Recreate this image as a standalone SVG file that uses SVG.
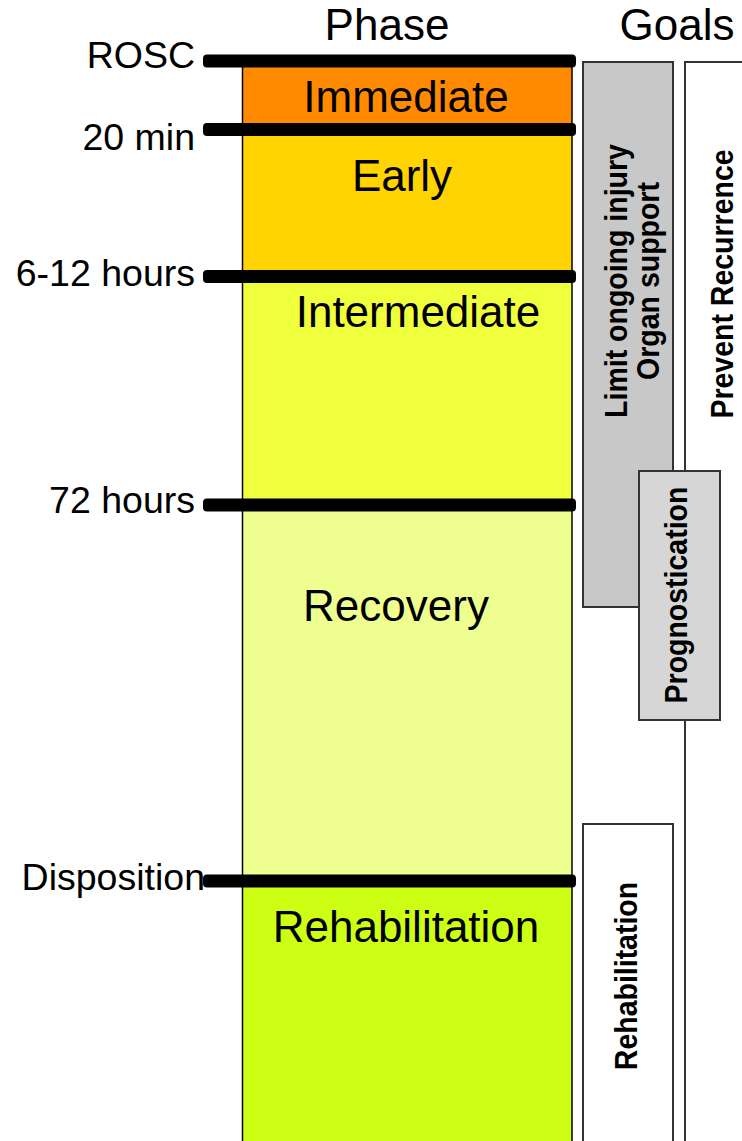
<svg xmlns="http://www.w3.org/2000/svg" width="742" height="1141" viewBox="0 0 742 1141">
<style>
.lbl{font-family:"Liberation Sans",Arial,sans-serif;font-size:37.5px;fill:#000;text-anchor:end}
.ph{font-family:"Liberation Sans",Arial,sans-serif;font-size:44px;fill:#000;text-anchor:middle}
.goal{font-family:"Liberation Sans",Arial,sans-serif;font-size:28.5px;font-weight:bold;fill:#000;text-anchor:middle}
.bar{fill:#000}
.edge{stroke:#000;stroke-width:1.5}
.gbox{stroke:#333;stroke-width:2}
</style>
<rect width="742" height="1141" fill="#fff"/>
<text class="ph" x="387" y="40">Phase</text>
<text class="ph" x="677" y="40">Goals</text>

<g id="phase-immediate">
<rect x="242" y="61" width="330" height="69" fill="#FF8A00"/>
<text class="ph" x="406" y="112">Immediate</text>
</g>
<g id="phase-early">
<rect x="242" y="130" width="330" height="147" fill="#FFD400"/>
<text class="ph" x="402" y="191">Early</text>
</g>
<g id="phase-intermediate">
<rect x="242" y="277" width="330" height="228" fill="#F0FF3C"/>
<text class="ph" x="418" y="327">Intermediate</text>
</g>
<g id="phase-recovery">
<rect x="242" y="505" width="330" height="376" fill="#EEFF90"/>
<text class="ph" x="396" y="621">Recovery</text>
</g>
<g id="phase-rehabilitation">
<rect x="242" y="881" width="330" height="260" fill="#CCFF14"/>
<text class="ph" x="406" y="942">Rehabilitation</text>
</g>
<g id="column-edges">
<line class="edge" x1="242.5" y1="61" x2="242.5" y2="1141"/>
<line class="edge" x1="572" y1="61" x2="572" y2="1141"/>
</g>

<g id="markers">
<g id="m-rosc"><rect class="bar" x="203" y="54.5" width="373" height="13" rx="4"/><text class="lbl" x="195" y="68">ROSC</text></g>
<g id="m-20min"><rect class="bar" x="203" y="123" width="373" height="13" rx="4"/><text class="lbl" x="195" y="150">20 min</text></g>
<g id="m-6-12h"><rect class="bar" x="203" y="270" width="373" height="13" rx="4"/><text class="lbl" x="195" y="286">6-12 hours</text></g>
<g id="m-72h"><rect class="bar" x="203" y="498.5" width="373" height="13" rx="4"/><text class="lbl" x="195" y="513">72 hours</text></g>
<g id="m-disposition"><rect class="bar" x="203" y="874.5" width="373" height="13" rx="4"/><text class="lbl" x="205" y="890">Disposition</text></g>
</g>

<g id="goal-prevent">
<rect class="gbox" x="685" y="62" width="70" height="1090" fill="#fff"/>
<text class="goal" transform="translate(733,284) rotate(-90) scale(1,1.12)">Prevent Recurrence</text>
</g>
<g id="goal-limit">
<rect class="gbox" x="583" y="62" width="90" height="545" fill="#C8C8C8"/>
<text class="goal" transform="translate(627,281) rotate(-90) scale(1,1.12)">Limit ongoing injury</text>
<text class="goal" transform="translate(659,281) rotate(-90) scale(1,1.12)">Organ support</text>
</g>
<g id="goal-prognostication">
<rect class="gbox" x="639" y="471" width="81" height="249" fill="#D6D6D6"/>
<text class="goal" transform="translate(687,595) rotate(-90) scale(1,1.12)">Prognostication</text>
</g>
<g id="goal-rehabilitation">
<rect class="gbox" x="583" y="824" width="90" height="330" fill="#fff"/>
<text class="goal" transform="translate(637,976) rotate(-90) scale(1,1.12)">Rehabilitation</text>
</g>
</svg>
